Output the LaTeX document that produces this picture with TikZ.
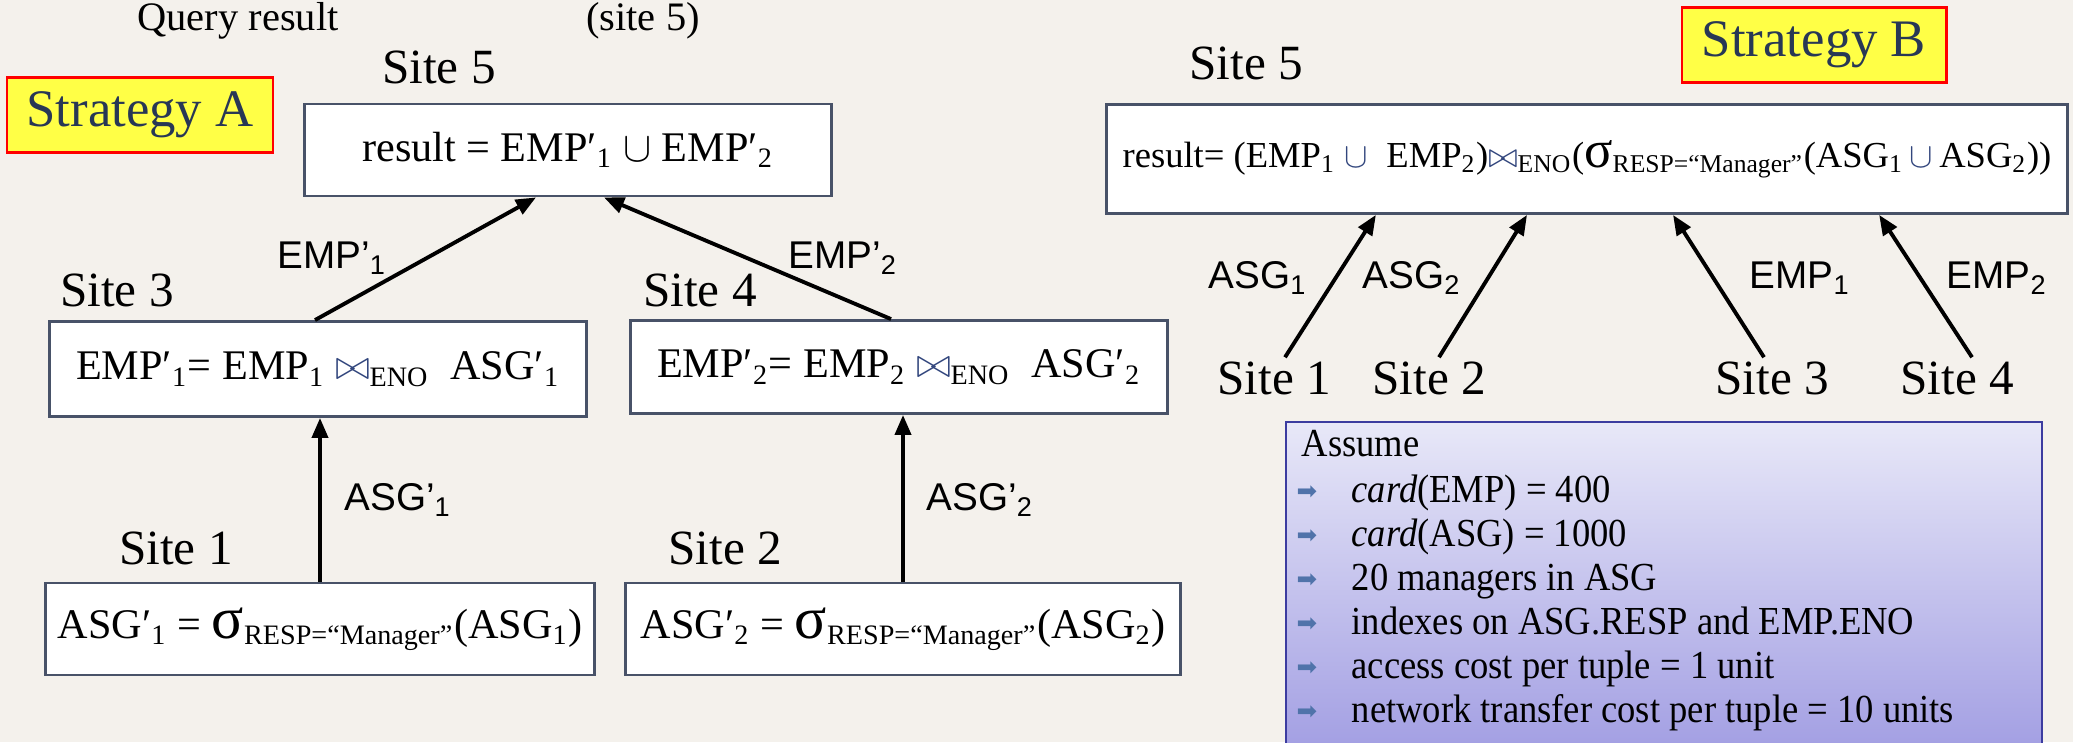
\documentclass[tikz,border=0pt]{standalone}
\usepackage{fontspec}
\setmainfont{Liberation Serif}
\setsansfont{Liberation Sans}
\newfontfamily\arrowfont{DejaVu Sans}
\newfontfamily\asmfont[FakeStretch=0.92]{Liberation Serif}
\usepackage{xcolor}
\usepackage{tikz}
\usetikzlibrary{arrows.meta, positioning}
\definecolor{slideBg}{RGB}{244, 241, 236}
\definecolor{boxLine}{RGB}{72, 82, 104}
\definecolor{stratText}{RGB}{40, 55, 85}
\definecolor{stratFill}{RGB}{255, 255, 70}
\definecolor{joinBlue}{RGB}{50, 70, 125}
\definecolor{asmTop}{RGB}{232, 232, 248}
\definecolor{asmBottom}{RGB}{160, 156, 226}
\definecolor{asmLine}{RGB}{60, 60, 160}
\definecolor{bulletBlue}{RGB}{80, 115, 170}

\newcommand{\jn}{\textcolor{joinBlue}{$\bowtie$}}
\newcommand{\un}{$\cup$}
\newcommand{\unb}{\textcolor{joinBlue}{$\cup$}}
\newcommand{\sel}[1][17]{{\fontsize{#1}{#1}\selectfont σ}}

\begin{document}
\begin{tikzpicture}[x=0.01cm, y=-0.01cm,
    relbox/.style={draw=boxLine, line width=0.8pt, fill=white, font=\fontsize{12}{14}\selectfont},
    sitelbl/.style={inner sep=1pt, font=\fontsize{14}{16}\selectfont},
    flowlbl/.style={inner sep=1pt, font=\sffamily\fontsize{11}{13}\selectfont},
    stratbox/.style={draw=red, line width=0.8pt, fill=stratFill, text=stratText, font=\fontsize{15}{17}\selectfont, minimum height=0.75cm},
    asmline/.style={anchor=base west, inner sep=0pt, font=\asmfont\fontsize{11.3}{13}\selectfont},
    ship/.style={-{Triangle[length=0.2cm, width=0.16cm]}, line width=1.1pt}]
    \useasboundingbox (0,0) rectangle (2073,742);
    \fill[slideBg] (0,0) rectangle (2073,742);
    \node[font=\fontsize{11.5}{13}\selectfont] (qres) at (238,21) {Query result};
    \node[font=\fontsize{11.5}{13}\selectfont] (qsite) at (643,21) {(site 5)};

    % strategy A
    \node[stratbox, minimum width=2.66cm] (stratA) at (140,115) {Strategy A};
    \node[sitelbl] (lblA5) at (439,67) {Site 5};
    \node[relbox, minimum width=5.27cm, minimum height=0.92cm] (resA) at (568,150) {result = EMP′\textsubscript{1} \un{} EMP′\textsubscript{2}};
    \node[sitelbl] (lblA3) at (117,290) {Site 3};
    \node[sitelbl] (lblA4) at (700,290) {Site 4};
    \node[relbox, minimum width=5.37cm, minimum height=0.95cm] (joinA1) at (318,369) {EMP′\textsubscript{1}= EMP\textsubscript{1} \jn\textsubscript{ENO}\ \ ASG′\textsubscript{1}};
    \node[relbox, minimum width=5.37cm, minimum height=0.93cm] (joinA2) at (899,367) {EMP′\textsubscript{2}= EMP\textsubscript{2} \jn\textsubscript{ENO}\ \ ASG′\textsubscript{2}};
    \node[sitelbl] (lblA1) at (176,548) {Site 1};
    \node[sitelbl] (lblA2) at (725,548) {Site 2};
    \node[relbox, minimum width=5.37cm, minimum height=0.92cm] (selA1) at (320,629) {ASG′\textsubscript{1} = \sel\textsubscript{RESP=“Manager”}(ASG\textsubscript{1})};
    \node[relbox, minimum width=5.55cm, minimum height=0.92cm] (selA2) at (903,629) {ASG′\textsubscript{2} = \sel\textsubscript{RESP=“Manager”}(ASG\textsubscript{2})};
    \draw[ship] ([xshift=-0.03cm]joinA1.north) -- ([xshift=-0.32cm]resA.south);
    \draw[ship] ([xshift=-0.08cm]joinA2.north) -- ([xshift=0.36cm]resA.south);
    \draw[ship] (selA1.north) -- (selA1.north |- joinA1.south);
    \draw[ship] (selA2.north) -- (selA2.north |- joinA2.south);
    \node[flowlbl] (eA1) at (332,258) {EMP’\textsubscript{1}};
    \node[flowlbl] (eA2) at (843,258) {EMP’\textsubscript{2}};
    \node[flowlbl] (eA3) at (398,500) {ASG’\textsubscript{1}};
    \node[flowlbl] (eA4) at (980,500) {ASG’\textsubscript{2}};

    % strategy B
    \node[stratbox, minimum width=2.64cm] (stratB) at (1814,45) {Strategy B};
    \node[sitelbl] (lblB5) at (1246,63) {Site 5};
    \node[relbox, minimum width=9.61cm, minimum height=1.09cm, font=\fontsize{10.4}{13}\selectfont] (resB) at (1587,159) {result= (EMP\textsubscript{1} \unb\ \ EMP\textsubscript{2})\jn\textsubscript{ENO}(\sel[15]\textsubscript{RESP=“Manager”}(ASG\textsubscript{1}\,\unb\,ASG\textsubscript{2}))};
    \foreach \n/\x/\sx/\dx/\lx/\lbl in {1/1274/0.11/-2.11/1258/ASG, 2/1429/0.10/-0.60/1412/ASG, 3/1772/-0.08/0.86/1800/EMP, 4/1957/0.15/2.92/1997/EMP} {
        \node[sitelbl] (siteB\n) at (\x,378) {Site \n};
        \draw[ship] ([xshift=\sx cm]siteB\n.north) -- ([xshift=\dx cm]resB.south);
        \node[flowlbl] (eB\n) at (\lx,278) {\lbl\textsubscript{\ifnum\n>2 \the\numexpr\n-2\relax\else\n\fi}};
    }

    % assumptions
    \begin{scope}
        \clip (0,0) rectangle (2073,742);
        \node[draw=asmLine, line width=0.7pt, top color=asmTop, bottom color=asmBottom, minimum width=7.56cm, minimum height=3.4cm] (asm) at (1664,592) {};
    \end{scope}
    \node[asmline] (asmHead) at (1301,456) {Assume};
    \foreach \i/\txt in {0/{\textit{card}(EMP) = 400}, 1/{\textit{card}(ASG) = 1000}, 2/{20 managers in ASG}, 3/{indexes on ASG.RESP and EMP.ENO}, 4/{access cost per tuple = 1 unit}, 5/{network transfer cost per tuple = 10 units}} {
        \pgfmathsetmacro{\ybase}{502+44*\i}
        \node[text=bulletBlue, inner sep=0pt, font=\arrowfont\fontsize{7}{7}\selectfont] (bul\i) at (1307,\ybase-9) {➡};
        \node[asmline] (asm\i) at (1351,\ybase) {\txt};
    }
\end{tikzpicture}
\end{document}
